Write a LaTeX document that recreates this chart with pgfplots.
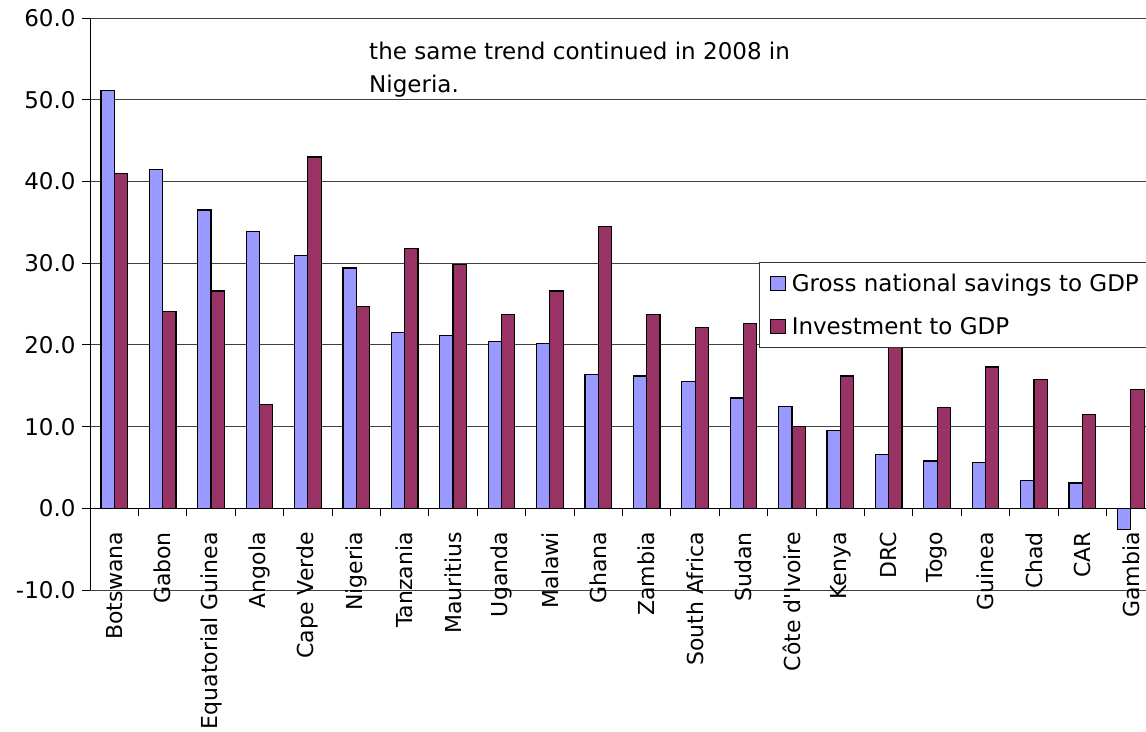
\documentclass[border=0pt]{standalone}
\usepackage{pgfplots}
\pgfplotsset{compat=1.18}
\usepackage{fontspec}
\setmainfont{DejaVu Sans}[Ligatures=TeXOff]
\definecolor{sav}{HTML}{9999FF}
\definecolor{inv}{HTML}{993366}
\newcommand\fs{\fontsize{22}{33}\selectfont}
\newcommand\fl{\fontsize{23}{33.5}\selectfont}
\begin{document}
\begin{tikzpicture}
\begin{axis}[
  scale only axis, width=1064.8pt, height=572pt,
  xmin=-0.5, xmax=21.5, ymin=-10, ymax=60,
  axis y line*=left, axis x line*=middle,
  axis line style={black, line width=1pt},
  ybar=0pt, bar width=0.275,
  ytick={-10,0,10,20,30,40,50,60},
  ymajorgrids, grid style={black!75, line width=1pt},
  y tick label style={font=\fl, xshift=-3pt, /pgf/number format/fixed, /pgf/number format/fixed zerofill, /pgf/number format/precision=1, /pgf/number format/assume math mode=true},
  xtick={0,...,21},
  xticklabels={Botswana, Gabon, Equatorial Guinea, Angola, Cape Verde, Nigeria, Tanzania, Mauritius, Uganda, Malawi, Ghana, Zambia, South Africa, Sudan, Côte d'Ivoire, Kenya, DRC, Togo, Guinea, Chad, CAR, Gambia},
  x tick label style={rotate=90, anchor=east, font=\fs, inner sep=0pt},
  xticklabel shift=15.5pt,
  major x tick style={draw=none},
  minor xtick={0.5,1.5,...,21.5},
  tick align=outside,
  major tick length=8pt, minor tick length=8pt,
  tick style={black, line width=1pt},
  legend style={at={(0.6282,0.5734)}, anchor=north west, draw=black!80, line width=1pt, fill=white, font=\fl, inner xsep=4pt, inner ysep=9pt, row sep=21pt, legend cell align=left},
  legend image code/.code={\draw[#1, line width=1pt] (6pt,-7pt) rectangle (21pt,7pt); \path (0pt,0pt) (25pt,0pt);},
]
\addplot[fill=sav, draw=black, line width=1.2pt] coordinates {
(0,51.1) (1,41.5) (2,36.5) (3,33.9) (4,30.9) (5,29.4) (6,21.5) (7,21.2) (8,20.4) (9,20.2) (10,16.4)
(11,16.2) (12,15.5) (13,13.5) (14,12.5) (15,9.5) (16,6.6) (17,5.8) (18,5.6) (19,3.4) (20,3.1) (21,-2.6)};
\addplot[fill=inv, draw=black, line width=1.2pt] coordinates {
(0,41.0) (1,24.1) (2,26.6) (3,12.7) (4,43.0) (5,24.7) (6,31.8) (7,29.8) (8,23.7) (9,26.6) (10,34.5)
(11,23.7) (12,22.1) (13,22.6) (14,10.0) (15,16.2) (16,22.0) (17,12.3) (18,17.3) (19,15.8) (20,11.5) (21,14.5)};
\legend{Gross national savings to GDP\hspace*{20pt}, Investment to GDP}
\begin{scope}
\clip (axis cs:4.5,50) rectangle (axis cs:16,60);
\node[anchor=north west, align=left, font=\fl, inner sep=0pt] at (axis cs:5.264,57.1) {the same trend continued in 2008 in\\Nigeria.};
\end{scope}
\end{axis}
\pgfresetboundingbox
\useasboundingbox ([shift={(-90pt,-141pt)}]current axis.south west) rectangle ([shift={(-9pt,18pt)}]current axis.north east);
\end{tikzpicture}
\end{document}
